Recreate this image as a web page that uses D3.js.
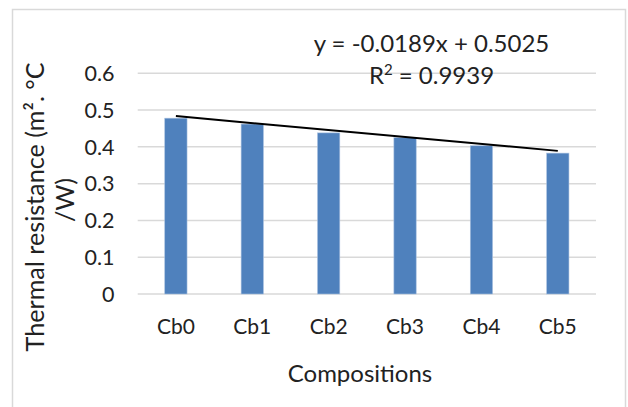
<!DOCTYPE html>
<meta charset="utf-8">
<style>
body { margin: 0; background: #fff; }
svg text { font-family: Lato, "Open Sans", sans-serif; fill: #222; }
.grid line { stroke: #d9d9d9; stroke-width: 1.5; }
.tick-y { font-size: 21.5px; }
.tick-x { font-size: 21px; }
.title { font-size: 24px; }
.ytitle { font-size: 25.2px; }
</style>
<body>
<svg width="628" height="407"></svg>
</body>
<script src="https://cdn.jsdelivr.net/npm/d3@7"></script>
<script>

// data
var categories = ["Cb0", "Cb1", "Cb2", "Cb3", "Cb4", "Cb5"];
var resistance = [0.478, 0.462, 0.438, 0.425, 0.403, 0.383];
var yTicks = [0, 0.1, 0.2, 0.3, 0.4, 0.5, 0.6];
var trendSlope = -0.0189,
    trendIntercept = 0.5025;
var equationLabel = "y = -0.0189x + 0.5025";
var r2Value = "0.9939";

var svg = d3.select("svg");

var x = d3.scaleBand()
    .domain(categories)
    .range([137.7, 596])
    .paddingInner(0.708)
    .paddingOuter(0.354);

var y = d3.scaleLinear()
    .domain([0, 0.6])
    .range([294, 73.3]);

// chart area border (runs off the bottom)
svg.append("rect")
    .attr("x", 12.5)
    .attr("y", 9.5)
    .attr("width", 613)
    .attr("height", 420)
    .attr("fill", "#fff")
    .attr("stroke", "#d9d9d9")
    .attr("stroke-width", 1.5);

// gridlines
svg.append("g")
    .attr("class", "grid")
  .selectAll("line")
  .data(yTicks)
  .enter().append("line")
    .attr("x1", x.range()[0])
    .attr("x2", x.range()[1])
    .attr("y1", function(d) { return y(d); })
    .attr("y2", function(d) { return y(d); });

// y tick labels
svg.append("g")
  .selectAll("text")
  .data(yTicks)
  .enter().append("text")
    .attr("class", "tick-y")
    .attr("x", 114.5)
    .attr("y", function(d) { return y(d); })
    .attr("dy", "0.36em")
    .attr("text-anchor", "end")
    .text(function(d) { return d === 0 ? "0" : d3.format(".1f")(d); });

// bars
svg.append("g")
  .selectAll("rect")
  .data(categories)
  .enter().append("rect")
    .attr("x", function(d) { return x(d); })
    .attr("width", x.bandwidth())
    .attr("y", function(d, i) { return y(resistance[i]); })
    .attr("height", function(d, i) { return y(0) - y(resistance[i]); })
    .attr("fill", "#4f81bd")
    .attr("stroke", "#a9c1e0")
    .attr("stroke-width", 0.6);

// linear trendline, x = 1..n
var n = categories.length;
svg.append("line")
    .attr("x1", x(categories[0]) + x.bandwidth() / 2)
    .attr("x2", x(categories[n - 1]) + x.bandwidth() / 2)
    .attr("y1", y(trendSlope * 1 + trendIntercept))
    .attr("y2", y(trendSlope * n + trendIntercept))
    .attr("stroke", "#000")
    .attr("stroke-width", 2);

// x tick labels
svg.append("g")
  .selectAll("text")
  .data(categories)
  .enter().append("text")
    .attr("class", "tick-x")
    .attr("x", function(d) { return x(d) + x.bandwidth() / 2; })
    .attr("y", 333.5)
    .attr("text-anchor", "middle")
    .text(function(d) { return d; });

// trendline equation
svg.append("text")
    .attr("class", "title")
    .attr("x", 431.5)
    .attr("y", 52)
    .attr("text-anchor", "middle")
    .text(equationLabel);

var r2 = svg.append("text")
    .attr("class", "title")
    .attr("x", 431.5)
    .attr("y", 84)
    .attr("text-anchor", "middle");
r2.append("tspan").text("R");
r2.append("tspan").text("2").attr("font-size", "15px").attr("dy", -9);
r2.append("tspan").text(" = " + r2Value).attr("dy", 9);

// axis titles
svg.append("text")
    .attr("class", "title")
    .attr("x", 360)
    .attr("y", 382)
    .attr("text-anchor", "middle")
    .text("Compositions");

var yTitle = svg.append("text")
    .attr("class", "ytitle")
    .attr("transform", "translate(43.5,207) rotate(-90)")
    .attr("text-anchor", "middle");
yTitle.append("tspan").attr("x", 0).attr("y", 0).text("Thermal resistance (m². °C");
yTitle.append("tspan").attr("x", 7).attr("y", 30.5).text("/W)");

</script>
